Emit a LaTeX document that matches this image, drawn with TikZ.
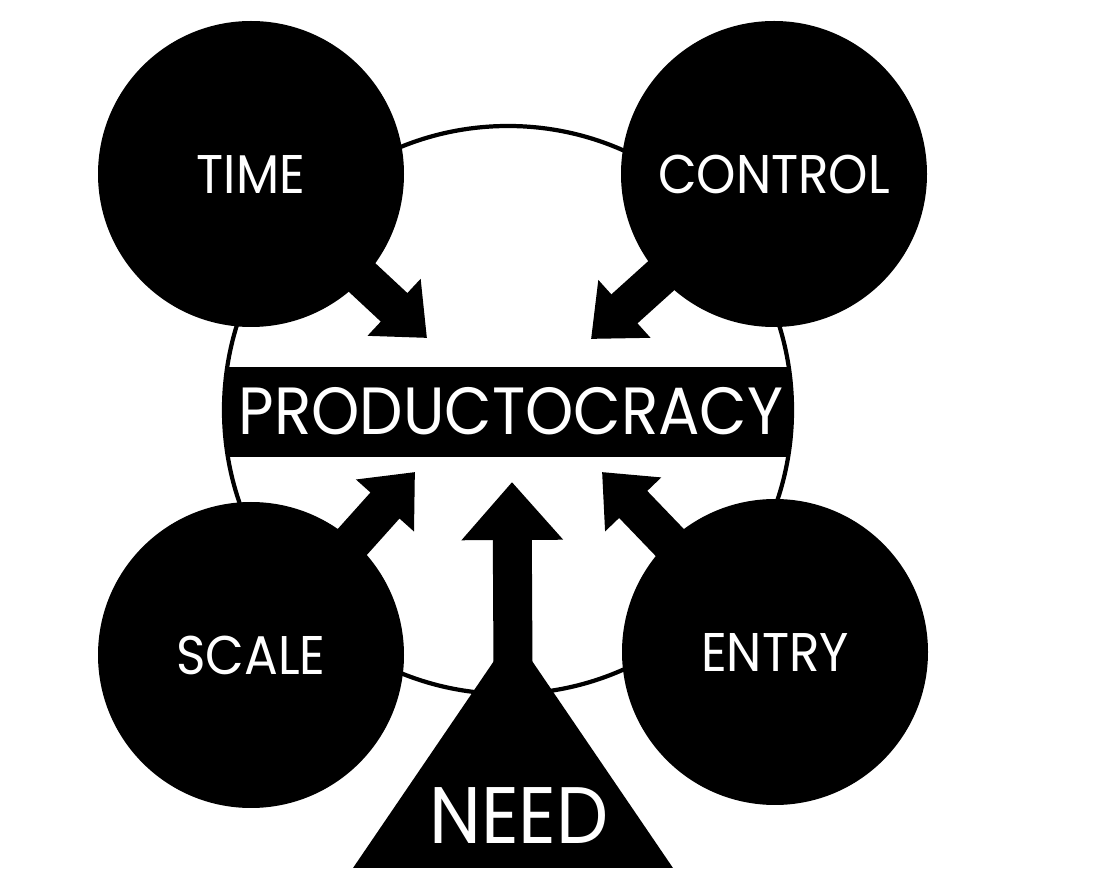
\documentclass[tikz,border=0pt]{standalone}
\usepackage{fontspec}
\setmainfont{Poppins}[FakeStretch=0.92]
\usetikzlibrary{arrows.meta}

\tikzset{
  bubble/.style={circle, fill=black, minimum size=3.06cm, inner sep=0pt,
    text=white, font=\fontsize{15.5}{18}\selectfont},
  push/.style={line width=0.39cm, -{Triangle[width=0.75cm, length=0.45cm]},
    shorten <=-0.1cm},
}

\begin{document}
\begin{tikzpicture}
  \useasboundingbox (0,0) rectangle (11.05,8.8);

  % Outer ring
  \draw[very thick] (5.08,4.70) circle (2.84);

  % Band across the ring
  \begin{scope}
    \clip (5.08,4.70) circle (2.84);
    \fill (0,4.23) rectangle (11.05,5.13);
  \end{scope}
  \node[text=white, font=\fontsize{19}{22}\selectfont] (prod) at (5.11,4.69) {PRODUCTOCRACY};

  % The four forces
  \node[bubble] (time) at (2.51,7.06) {TIME};
  \node[bubble] (control) at (7.74,7.06) {CONTROL};
  \node[bubble] (scale) at (2.51,2.25) {SCALE};
  \node[bubble] (entry) at (7.75,2.28) {ENTRY};

  % Arrows into the band
  \coordinate (timetip) at (4.27,5.42);
  \coordinate (controltip) at (5.91,5.41);
  \coordinate (scaletip) at (4.15,4.08);
  \coordinate (entrytip) at (6.02,4.08);
  \draw[push] (time) -- (timetip);
  \draw[push] (control) -- (controltip);
  \draw[push] (scale) -- (scaletip);
  \draw[push] (entry) -- (entrytip);

  % Need triangle at the bottom
  \coordinate (apex) at (5.13,2.47);
  \fill (3.53,0.12) -- (apex) -- (6.73,0.12) -- cycle;
  \node[text=white, font=\fontsize{22.8}{27}\selectfont] (need) at (5.19,0.64) {NEED};

  % Upward arrow from need
  \coordinate (needbase) at (5.13,2.12);
  \coordinate (needtip) at (5.12,3.98);
  \draw[push, -{Triangle[width=0.98cm, length=0.58cm]}] (needbase) -- (needtip);
\end{tikzpicture}
\end{document}
